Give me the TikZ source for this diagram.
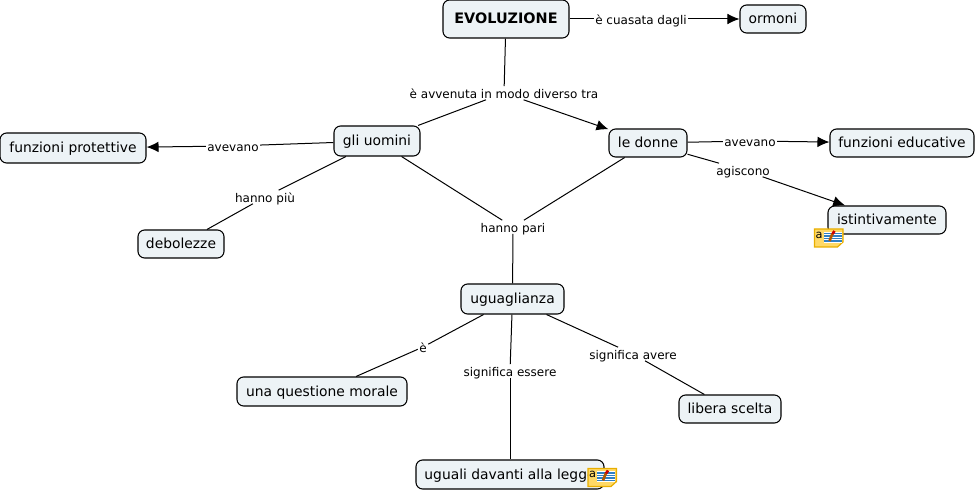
\documentclass[tikz,border=0pt]{standalone}
\usepackage{fontspec}
\setmainfont{DejaVu Sans}
\usetikzlibrary{arrows.meta}
\definecolor{boxfill}{HTML}{EDF3F6}
\definecolor{noteY}{HTML}{FFD966}
\definecolor{noteB}{HTML}{E8AE00}
\definecolor{noteL}{HTML}{2F7FC4}
\tikzset{
  concept/.style={draw=black,fill=boxfill,line width=0.8pt,rounded corners=5pt,inner sep=0pt,text height=9pt,text depth=1.5pt,font=\fontsize{10.4pt}{12pt}\selectfont,text=black},
  linklabel/.style={inner xsep=1pt,inner ysep=0.5pt,text height=8.5pt,text depth=0.3pt,font=\fontsize{9pt}{10pt}\selectfont,text=black},
  conn/.style={line width=0.75pt,draw=black},
  arr/.style={conn,-{Latex[length=9pt,width=8pt]}}
}
\newcommand{\noteicon}[2]{%
  \begin{scope}[shift={(#1,#2)}]
    \draw[draw=noteB,fill=noteY,line width=0.9pt] (0,0) -- (28.5,0) -- (28.5,13) -- (23,18) -- (0,18) -- cycle;
    \fill[white] (9,3) rectangle (27,14);
    \foreach \yy in {4.5,7,9.5,12}{\draw[noteL,line width=0.8pt] (9,\yy) -- (27,\yy);}
    \draw[orange!70!black,line width=2pt] (18,4.5) -- (15,12);
    \draw[red!80!black,line width=2pt] (20,2) -- (18,5);
    \node[inner sep=0pt,font=\fontsize{8.5pt}{9pt}\selectfont] (#1note) at (4.5,6) {a};
  \end{scope}}
\begin{document}
\begin{tikzpicture}[x=0.75pt,y=-0.75pt]
\useasboundingbox (0,0) rectangle (976,491);
% link labels
\node[linklabel] (l1) at (641,19) {è cuasata dagli};
\node[linklabel] (l2) at (504,93) {è avvenuta in modo diverso tra};
\node[linklabel] (l3) at (233,146) {avevano};
\node[linklabel] (l4) at (750,141) {avevano};
\node[linklabel] (l5) at (743,170) {agiscono};
\node[linklabel] (l6) at (265,197) {hanno più};
\node[linklabel] (l7) at (513,227) {hanno pari};
\node[linklabel] (l8) at (423,347) {è};
\node[linklabel] (l9) at (510,371) {significa essere};
\node[linklabel] (l10) at (633,354) {significa avere};
% concepts
\node[concept,minimum width=94.5pt,minimum height=28.5pt,font=\fontsize{10.8pt}{12pt}\selectfont\bfseries] (ev) at (506,19) {EVOLUZIONE};
\node[concept,minimum width=49.5pt,minimum height=21pt] (orm) at (773,19) {ormoni};
\node[concept,minimum width=109.5pt,minimum height=22.5pt] (fp) at (73,148) {funzioni protettive};
\node[concept,minimum width=64.5pt,minimum height=22.5pt] (gu) at (377,141) {gli uomini};
\node[concept,minimum width=58.5pt,minimum height=21pt] (ld) at (648,143) {le donne};
\node[concept,minimum width=108pt,minimum height=21pt] (fe) at (902,143) {funzioni educative};
\node[concept,minimum width=88.5pt,minimum height=21pt] (ist) at (887,220) {istintivamente};
\node[concept,minimum width=64.5pt,minimum height=21pt] (deb) at (181,244) {debolezze};
\node[concept,minimum width=77.25pt,minimum height=22.5pt] (ug) at (512.5,299) {uguaglianza};
\node[concept,minimum width=127.5pt,minimum height=21.75pt] (qm) at (322,391.5) {una questione morale};
\node[concept,minimum width=76.5pt,minimum height=21pt] (ls) at (730,409) {libera scelta};
\node[concept,minimum width=141pt,minimum height=21.75pt] (dl) at (510,474.5) {uguali davanti alla legge};
% connectors
\draw[conn] (ev) -- (l1);
\draw[arr] (l1) -- (orm);
\draw[conn] (ev) -- (l2);
\draw[conn] (l2) -- (gu);
\draw[arr] (l2) -- (ld);
\draw[conn] (gu) -- (l3);
\draw[arr] (l3) -- (fp);
\draw[conn] (gu) -- (l6);
\draw[conn] (l6) -- (deb);
\draw[conn] (gu) -- (l7);
\draw[conn] (ld) -- (l7);
\draw[conn] (l7) -- (ug);
\draw[conn] (ld) -- (l4);
\draw[arr] (l4) -- (fe);
\draw[conn] (ld) -- (l5);
\draw[arr] (l5) -- (ist);
\draw[conn] (ug) -- (l8);
\draw[conn] (l8) -- (qm);
\draw[conn] (ug) -- (l9);
\draw[conn] (l9) -- (dl);
\draw[conn] (ug) -- (l10);
\draw[conn] (l10) -- (ls);
% note icons
\noteicon{814.5}{229}
\noteicon{588}{468.5}
\end{tikzpicture}
\end{document}
